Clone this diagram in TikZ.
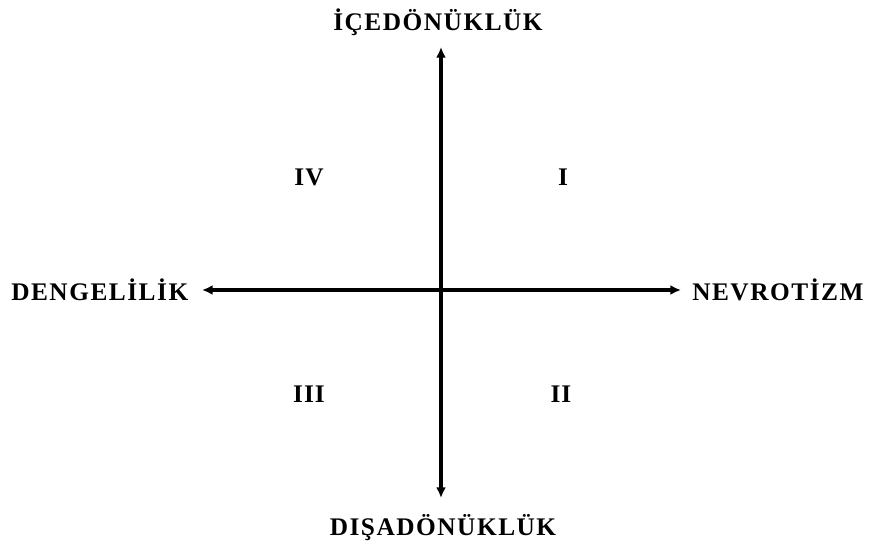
\documentclass[tikz,border=0pt]{standalone}
\usepackage{fontspec}
\usepackage{tikz}
\usetikzlibrary{arrows.meta,positioning}
\newfontfamily\axisfont{Liberation Serif}[LetterSpace=6]
\newfontfamily\quadfont{Liberation Serif}[LetterSpace=4]

\begin{document}
\begin{tikzpicture}[x=0.75pt,y=-0.75pt,
    lbl/.style={inner sep=0pt,font=\axisfont\bfseries\fontsize{19}{22}\selectfont},
    quad/.style={inner sep=0pt,font=\quadfont\bfseries\fontsize{19}{22}\selectfont},
    axis/.style={{Latex[length=8pt,width=7.5pt]}-{Latex[length=8pt,width=7.5pt]},line width=2.3pt}]
    \useasboundingbox (0,0) rectangle (869,544);
    % axis ends
    \coordinate (north) at (441,47);
    \coordinate (south) at (441,498);
    \coordinate (west) at (202,290);
    \coordinate (east) at (681,290);
    \draw[axis] (south) -- (north);
    \draw[axis] (west) -- (east);
    % pole labels
    \node[lbl] (intro) at (438,22) {İÇEDÖNÜKLÜK};
    \node[lbl] (extra) at (443,528) {DIŞADÖNÜKLÜK};
    \node[lbl,anchor=west] (stable) at (11,290) {DENGELİLİK};
    \node[lbl,anchor=west] (neuro) at (692,290) {NEVROTİZM};
    % quadrants
    \node[quad] (qI) at (563,177) {I};
    \node[quad] (qII) at (561,394) {II};
    \node[quad] (qIII) at (309,394) {III};
    \node[quad] (qIV) at (309,177) {IV};
  \end{tikzpicture}
\end{document}
